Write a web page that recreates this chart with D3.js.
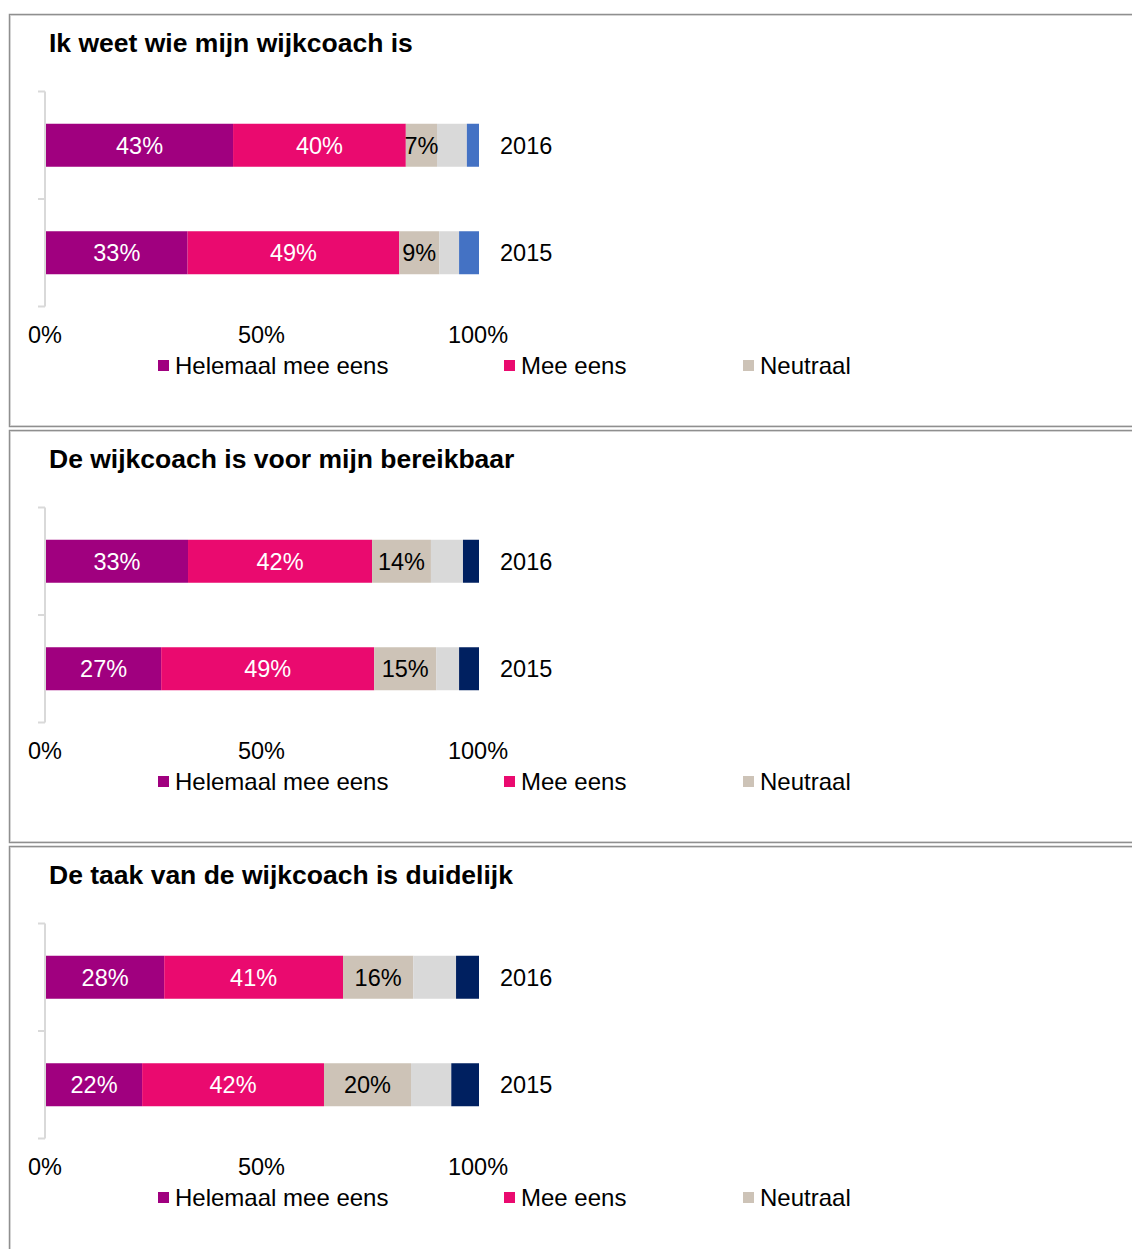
<!DOCTYPE html>
<html><head><meta charset="utf-8">
<script src="https://cdn.jsdelivr.net/npm/d3@7"></script>
<style>body{margin:0;background:#fff}svg{display:block}text{font-family:"Liberation Sans",Arial,sans-serif}</style>
</head><body><svg id="c" width="1132" height="1249"></svg>
<script>
const titles = ["Ik weet wie mijn wijkcoach is","De wijkcoach is voor mijn bereikbaar","De taak van de wijkcoach is duidelijk"];
const years = ["2016","2015"];
const seriesNames = ["Helemaal mee eens","Mee eens","Neutraal","Oneens","Helemaal oneens"];
const seriesColorsP1 = ["#a0007f","#ea0a6f","#cdc3b7","#d9d9d9","#4472c4"];
const seriesColorsP23 = ["#a0007f","#ea0a6f","#cdc3b7","#d9d9d9","#002060"];
// values per panel: [2016 row, 2015 row]
const panel1 = [[43.2,39.9,7.2,6.9,2.8],[32.7,48.9,9.2,4.6,4.6]];
const panel2 = [[32.8,42.5,13.6,7.4,3.7],[26.6,49.2,14.3,5.3,4.6]];
const panel3 = [[27.3,41.3,16.2,9.9,5.3],[22.2,42,20.1,9.3,6.4]];
const labels1 = [["43%","40%","7%"],["33%","49%","9%"]];
const labels2 = [["33%","42%","14%"],["27%","49%","15%"]];
const labels3 = [["28%","41%","16%"],["22%","42%","20%"]];
const tickValues = [0,50,100];

const panels = [
 {title:titles[0],data:panel1,labels:labels1,colors:seriesColorsP1},
 {title:titles[1],data:panel2,labels:labels2,colors:seriesColorsP23},
 {title:titles[2],data:panel3,labels:labels3,colors:seriesColorsP23}
];
const FS = 23.5;
const svg = d3.select("#c");
const x = d3.scaleLinear().domain([0,100]).range([46,479]);
const y = d3.scaleBand().domain(years).range([91.5,306.5]).paddingInner(0.6).paddingOuter(0.3);
const band = d3.scaleBand().domain(years).range([91.5,306.5]);

panels.forEach((p,i)=>{
  const g = svg.append("g").attr("transform",`translate(0,${i*416})`);
  g.append("rect").attr("x",9.5).attr("y",14.5).attr("width",1140).attr("height",412)
   .attr("fill","none").attr("stroke","#8f8f8f").attr("stroke-width",1.5);
  g.append("rect").attr("x",10.5).attr("y",15.5).attr("width",1140).attr("height",410)
   .attr("fill","none").attr("stroke","#d0d0d0").attr("stroke-width",0.8);
  g.append("text").attr("x",49).attr("y",52).attr("font-size",26.5).attr("font-weight","bold")
   .attr("fill","#000").text(p.title);
  const ax = g.append("g").attr("stroke","#d9d9d9").attr("stroke-width",2).attr("fill","none");
  ax.append("line").attr("x1",45).attr("x2",45).attr("y1",band.range()[0]).attr("y2",band.range()[1]);
  const tk = [band.range()[0], ...years.map(d=>band(d)+band.bandwidth())];
  tk.forEach(t=>ax.append("line").attr("x1",38).attr("x2",45).attr("y1",t).attr("y2",t));
  years.forEach((yr,r)=>{
    const vals = p.data[r];
    let cum = 0;
    const segs = vals.map((v,k)=>{const s={k,v,x0:cum,x1:cum+v};cum+=v;return s;});
    const row = g.append("g");
    row.selectAll("rect").data(segs).join("rect")
      .attr("x",d=>x(d.x0)).attr("width",d=>x(d.x1)-x(d.x0))
      .attr("y",y(yr)).attr("height",y.bandwidth())
      .attr("fill",d=>p.colors[d.k]);
    row.selectAll("text").data(segs.slice(0,3)).join("text")
      .attr("x",d=>(x(d.x0)+x(d.x1))/2).attr("y",y(yr)+y.bandwidth()/2+8.5)
      .attr("text-anchor","middle").attr("font-size",FS)
      .attr("fill",d=>d.k<2?"#fff":"#000").text((d,k)=>p.labels[r][k]);
    g.append("text").attr("x",500).attr("y",y(yr)+y.bandwidth()/2+8.5)
      .attr("font-size",FS).attr("fill","#000").text(yr);
  });
  g.selectAll(".tick").data(tickValues).join("text").attr("class","tick")
    .attr("x",d=>x(d)-1).attr("y",343).attr("text-anchor","middle").attr("font-size",FS)
    .attr("fill","#000").text(d=>d+"%");
  const legX = [158,504,743];
  seriesNames.slice(0,3).forEach((n,k)=>{
    g.append("rect").attr("x",legX[k]).attr("y",360).attr("width",11).attr("height",11).attr("fill",p.colors[k]);
    g.append("text").attr("x",legX[k]+17).attr("y",374).attr("font-size",24).attr("fill","#000").text(n);
  });
});
</script></body></html>
